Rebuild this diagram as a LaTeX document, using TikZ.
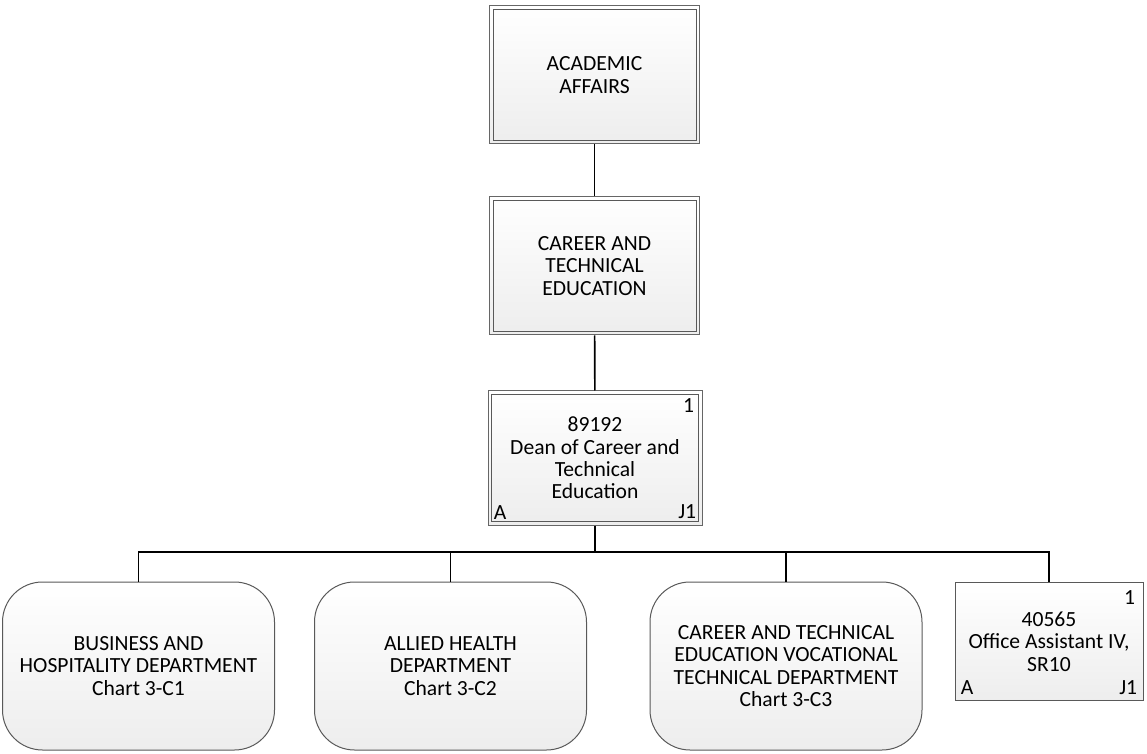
\documentclass[tikz,border=0pt]{standalone}
\usepackage{fontspec}
\setmainfont{Carlito}
\usetikzlibrary{positioning}

\begin{document}
\begin{tikzpicture}[x=0.5pt, y=-0.5pt, font=\fontsize{10.8}{11.2}\selectfont,
    unit/.style={draw=gray!80!black, line width=0.5pt,
      top color=white, bottom color=gray!14, align=center, inner sep=0pt,
      minimum width=105pt, minimum height=69pt},
    frame/.style={draw=gray!70!black, line width=0.4pt},
    dept/.style={draw=gray!70!black, line width=0.5pt, rounded corners=20pt,
      top color=white, bottom color=gray!14, align=center, inner sep=0pt,
      minimum width=136pt, minimum height=84pt},
    post/.style={draw=gray!70!black, line width=0.5pt,
      top color=white, bottom color=gray!14, align=center, inner sep=0pt},
    link/.style={line width=0.8pt}]
   \useasboundingbox (0,0) rectangle (1147,754);

   \node[unit] (aa) at (594.5,75) {ACADEMIC\\AFFAIRS};
   \node[unit] (cte) at (594.5,266) {CAREER AND\\TECHNICAL\\EDUCATION};
   \node[unit, minimum width=107pt, minimum height=67pt,
     label={[anchor=north east, inner sep=4pt]north east:1},
     label={[anchor=south west, inner sep=3pt]south west:A},
     label={[anchor=south east, inner sep=3pt]south east:J1}]
     (dean) at (595,458) {89192\\Dean of Career and\\Technical\\Education};

   % inner frame of the double boxes
   \foreach \n in {aa,cte,dean}
     \draw[frame] ([shift={(2pt,-2pt)}]\n.north west) rectangle ([shift={(-2pt,2pt)}]\n.south east);

   \node[dept] (bhd) at (138.5,666) {BUSINESS AND\\HOSPITALITY DEPARTMENT\\Chart 3-C1};
   \node[dept] (ahd) at (450.5,666) {ALLIED HEALTH\\DEPARTMENT\\Chart 3-C2};
   \node[dept] (vtd) at (786,666) {CAREER AND TECHNICAL\\EDUCATION VOCATIONAL\\TECHNICAL DEPARTMENT\\Chart 3-C3};
   \node[post, minimum width=94pt, minimum height=59pt,
     label={[anchor=north east, inner sep=4pt]north east:1},
     label={[anchor=south west, inner sep=3pt]south west:A},
     label={[anchor=south east, inner sep=3pt]south east:J1}]
     (oa) at (1049,641.5) {40565\\Office Assistant IV,\\SR10};

   \coordinate (bus) at (595,552);

  \path[link]
    (aa) edge (cte)
    (cte) edge (dean)
    (dean) edge (bus);
  \draw[link] (bus) -| (bhd.north);
  \draw[link] (bus) -| (ahd.north);
  \draw[link] (bus) -| (vtd.north);
  \draw[link] (bus) -| (oa.north);
  \end{tikzpicture}
\end{document}
